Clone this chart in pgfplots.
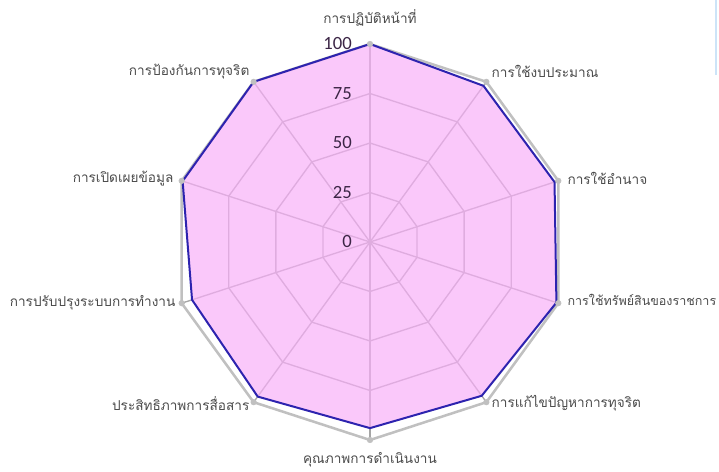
\documentclass[border=0pt]{standalone}
\usepackage{fontspec}
\setmainfont{Carlito}
\newfontfamily\thaifont[Script=Thai]{Loma}
\usepackage{pgfplots}
\pgfplotsset{compat=1.18}
\usepgfplotslibrary{polar}
\definecolor{gridgrey}{RGB}{165,165,165}
\definecolor{outgrey}{RGB}{192,192,192}
\definecolor{pinkfill}{RGB}{248,176,248}
\definecolor{blueline}{RGB}{45,35,175}
\definecolor{labgrey}{RGB}{75,75,75}
\definecolor{numcol}{RGB}{60,38,70}
\tikzset{
  lab/.style={font=\thaifont\fontsize{10.2}{12}\selectfont, text=labgrey, inner sep=0pt},
  num/.style={font=\fontsize{14}{16}\selectfont, text=numcol, inner sep=0pt, anchor=east, xshift=-13.5pt},
}
\begin{document}
\begin{tikzpicture}
\begin{polaraxis}[
    hide axis,
    scale only axis,
    width=297pt, height=297pt,
    xmin=0, xmax=360, ymin=0, ymax=100,
    at={(277.5pt,172.5pt)}, anchor=center,
    clip=false,
]
% spokes
\pgfplotsinvokeforeach{90,54,18,342,306,270,234,198,162,126}{
  \addplot[gridgrey, line width=1pt, forget plot] coordinates {(#1,0) (#1,100)};
}
% rings at 25, 50, 75
\pgfplotsinvokeforeach{25,50,75}{
  \addplot[gridgrey, line width=1pt, forget plot] coordinates {
    (90,#1) (54,#1) (18,#1) (342,#1) (306,#1) (270,#1) (234,#1) (198,#1) (162,#1) (126,#1)} --cycle;
}
% reference series (full score)
\addplot[outgrey, line width=1.9pt] coordinates {
  (90,100) (54,100) (18,100) (342,100) (306,100) (270,100) (234,100) (198,100) (162,100) (126,100)} --cycle;
% scores
\addplot[blueline, line width=1.5pt, line join=miter, fill=pinkfill, fill opacity=0.7] coordinates {
  (90,100) (54,97.5) (18,98) (342,99) (306,96) (270,94) (234,96.5) (198,94.5) (162,99.5) (126,100)} --cycle;
% reference markers on top
\addplot[only marks, mark=*, mark size=2.1pt, outgrey] coordinates {
  (90,100) (54,100) (18,100) (342,100) (306,100) (270,100) (234,100) (198,100) (162,100) (126,100)};
% tick numbers
\node[num] at (axis cs:90,0) {0};
\node[num] at (axis cs:90,25) {25};
\node[num] at (axis cs:90,50) {50};
\node[num] at (axis cs:90,75) {75};
\node[num] at (axis cs:90,100) {100};
% category labels
\node[lab, anchor=center, yshift=19.5pt] at (axis cs:90,100) {การปฏิบัติหน้าที่};
\node[lab, anchor=west, xshift=3.75pt, yshift=7.5pt] at (axis cs:54,100) {การใช้งบประมาณ};
\node[lab, anchor=west, xshift=6.75pt, yshift=1.5pt] at (axis cs:18,100) {การใช้อำนาจ};
\node[lab, anchor=west, xshift=6.75pt, yshift=2.25pt, font=\thaifont\fontsize{9.4}{12}\selectfont] at (axis cs:342,100) {การใช้ทรัพย์สินของราชการ};
\node[lab, anchor=west, xshift=3.75pt, yshift=-0.75pt] at (axis cs:306,100) {การแก้ไขปัญหาการทุจริต};
\node[lab, anchor=center, yshift=-15pt] at (axis cs:270,100) {คุณภาพการดำเนินงาน};
\node[lab, anchor=east, xshift=-3pt, yshift=-0.75pt] at (axis cs:234,100) {ประสิทธิภาพการสื่อสาร};
\node[lab, anchor=east, xshift=-4.5pt] at (axis cs:198,100) {การปรับปรุงระบบการทำงาน};
\node[lab, anchor=east, xshift=-6pt, yshift=1.5pt] at (axis cs:162,100) {การเปิดเผยข้อมูล};
\node[lab, anchor=east, xshift=-3pt, yshift=7.5pt] at (axis cs:126,100) {การป้องกันการทุจริต};
\end{polaraxis}
\draw[color={rgb,255:red,205;green,228;blue,248}, line width=1.2pt] (536.8pt,354pt) -- (536.8pt,298pt);
\pgfresetboundingbox
\useasboundingbox (0,0) rectangle (539.25pt,354pt);
\end{tikzpicture}
\end{document}
